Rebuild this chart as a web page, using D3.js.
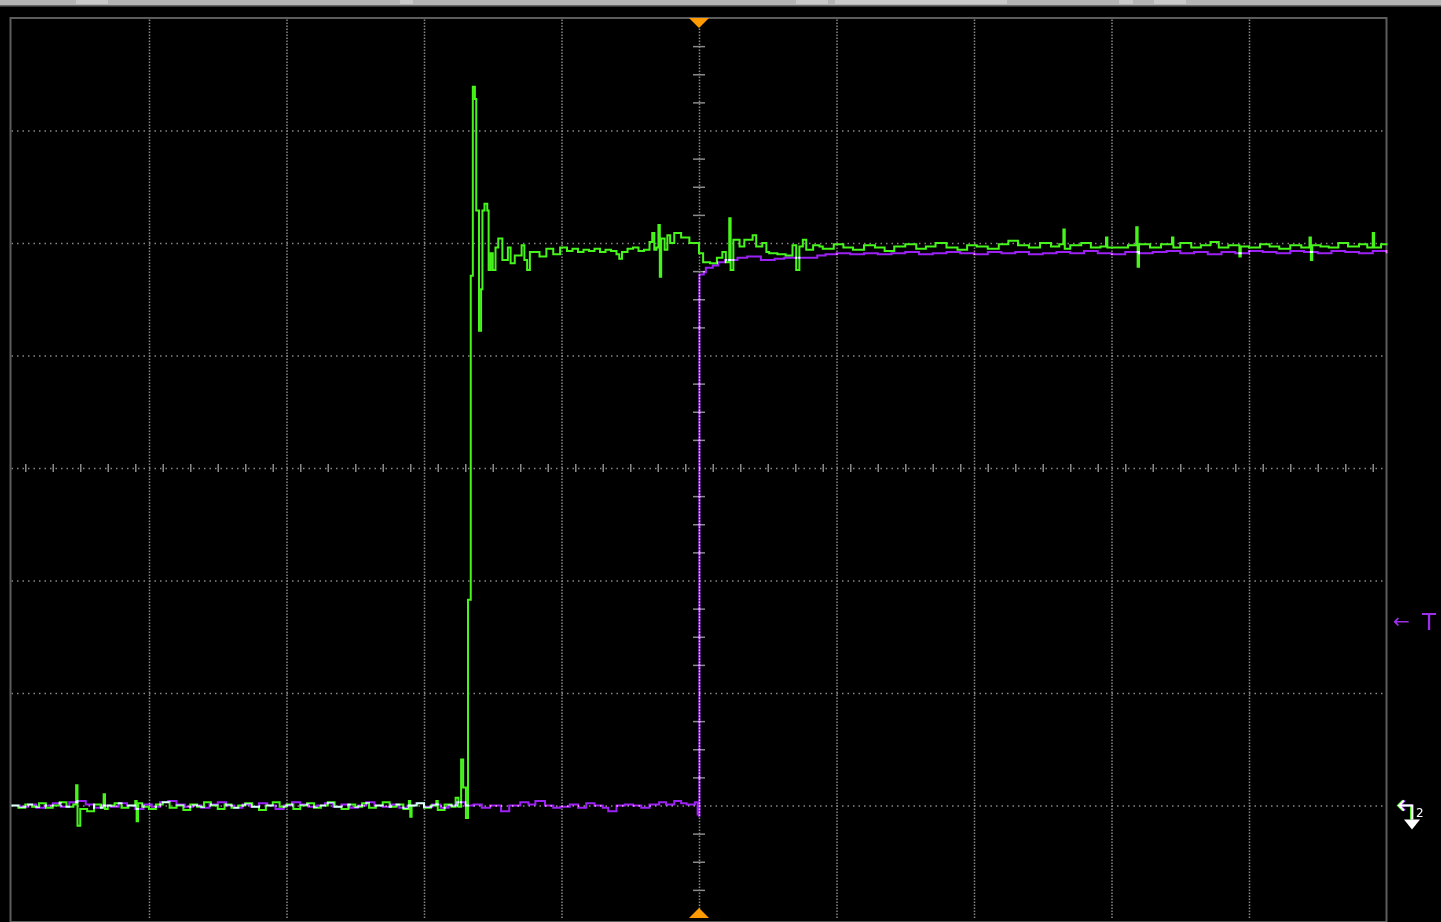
<!DOCTYPE html>
<html><head><meta charset="utf-8">
<script src="https://cdn.jsdelivr.net/npm/d3@7"></script>
<style>
html,body{margin:0;padding:0;background:#000;overflow:hidden;}
svg{display:block;}
</style></head>
<body>
<svg id="c" width="1441" height="922"></svg>
<script>
// ---- data (time in ns, 100 ns/div; voltage in mV, 100 mV/div) ----
const xTicks = [-400,-300,-200,-100,0,100,200,300,400];
const yTicks = [-300,-200,-100,0,100,200,300];
const xMinor = d3.range(-490, 500, 20);   // 5 minor per division
const yMinor = d3.range(-375, 400, 25);   // 4 minor per division
const triggerLevel = -136;
const groundLevel = -300;

const greenTrace = [
[-500,-300],[-495,-302],[-490,-299],[-485,-301],[-480,-298],[-475,-302],[-470,-300],[-465,-297],[-460,-301],[-455,-299],
[-453,-282],[-452,-318],[-450,-303],[-445,-305],[-440,-299],[-435,-302],[-433,-290],[-432,-303],[-430,-300],[-425,-298],
[-420,-302],[-415,-300],[-410,-296],[-409,-314],[-408,-298],[-405,-301],[-400,-303],[-395,-299],[-390,-297],[-385,-302],
[-380,-300],[-375,-304],[-370,-299],[-365,-301],[-360,-297],[-355,-300],[-350,-303],[-345,-299],[-340,-302],[-335,-300],
[-330,-298],[-325,-301],[-320,-304],[-315,-300],[-310,-297],[-305,-301],[-300,-299],[-295,-303],[-290,-300],[-285,-298],
[-280,-302],[-275,-300],[-270,-297],[-265,-301],[-260,-303],[-255,-299],[-250,-301],[-245,-298],[-240,-302],[-235,-300],
[-230,-297],[-225,-301],[-220,-299],[-215,-303],[-211,-296],[-210,-310],[-209,-300],[-205,-298],[-200,-302],[-195,-300],
[-191,-296],[-190,-304],[-185,-299],[-180,-301],[-177,-293],[-175,-301],[-173,-259],[-171.5,-284],[-169.5,-311],
[-168,-117],[-166,171],[-164.5,339],[-163,328],[-162,229],[-160,122],[-158.5,159],[-157.5,229],[-156,235],[-154,229],
[-153,176],[-151.5,191],[-150,176],[-148,196],[-146,204],[-143,185],[-139,196],[-137,182],[-134,189],[-129,198],
[-127,185],[-125,176],[-123,192],[-118,192],[-116,188],[-111,195],[-106,190],[-101,196],[-96,193],[-92,195],
[-88,192],[-84,194],[-80,193],[-76,195],[-72,192],[-68,194],[-64,193],[-60,190],[-58,186],[-56,192],[-52,195],
[-48,196],[-44,193],[-40,194],[-36,201],[-34,209],[-32.5,194],[-31,196],[-29.5,216],[-28.5,170],[-27.5,204],[-25,194],
[-23,207],[-21,200],[-18,209],[-13,205],[-7,200],[0,191],[3,183],[8,182],[13,187],[17,192],[19.5,183],[22,222],
[23,176],[25,203],[29.5,197],[33,203],[39,207],[41.6,197],[46,200],[49,192],[51,191],[57,190],[63,189],[68,198],
[70.7,176],[73,197],[75.5,203],[78,194],[83,198],[87.6,197],[90,195],[98,199],[105,196],[112,194],[120,198],
[128,196],[135,193],[142,197],[150,199],[158,195],[165,197],[172,200],[180,196],[188,194],[195,198],[202,197],
[210,195],[218,199],[225,202],[232,198],[240,196],[248,200],[256,197],[262,199],[265,212],[266,195],[270,198],
[278,200],[285,196],[292,197],[296,205],[297,196],[305,196],[312,198],[318,214],[319,179],[320,199],[328,196],
[336,199],[344,205],[345,196],[350,200],[358,196],[365,198],[372,201],[378,196],[385,198],[393,188],[394,197],
[400,196],[408,199],[415,197],[422,195],[430,198],[438,196],[444,205],[445,185],[446,198],[452,197],[458,196],
[465,200],[472,197],[480,199],[486,196],[490,209],[491,196],[496,199],[500,198]
];

const purpleTrace = [
[-500,-300],[-494,-301],[-488,-299],[-482,-302],[-476,-300],[-470,-298],[-464,-301],[-458,-297],[-452,-296],[-446,-299],
[-440,-302],[-434,-300],[-428,-301],[-422,-298],[-416,-300],[-410,-303],[-404,-299],[-398,-301],[-392,-297],[-386,-296],
[-380,-299],[-374,-301],[-368,-300],[-362,-302],[-356,-299],[-350,-297],[-344,-300],[-338,-302],[-332,-299],[-326,-301],
[-320,-298],[-314,-300],[-308,-303],[-302,-300],[-296,-297],[-290,-299],[-284,-301],[-278,-300],[-272,-298],[-266,-301],
[-260,-299],[-254,-302],[-248,-300],[-242,-297],[-236,-300],[-230,-301],[-224,-299],[-218,-302],[-212,-300],[-206,-298],
[-200,-301],[-194,-299],[-188,-302],[-182,-300],[-176,-297],[-170,-300],[-164,-299],[-158,-302],[-152,-300],[-144,-305],
[-138,-300],[-130,-297],[-124,-299],[-119,-296],[-112,-300],[-106,-302],[-101,-301],[-94,-299],[-88,-302],[-82,-298],
[-76,-300],[-70,-302],[-66,-305],[-60,-300],[-54,-299],[-48,-300],[-42,-302],[-36,-299],[-29,-297],[-24,-299],
[-18,-296],[-13,-298],[-9,-299],[-3,-297],[-1,-308],[0,-309],[0.3,172],[3.5,174],[5,178],[10,180],[14,183],[19,185],
[28,187],[35,188],[42,188],[45,185],[55,186],[62,187],[70,187],[80,187],[86,189],[92,190],[100,191],[110,190],
[120,191],[130,190],[140,191],[150,192],[160,190],[170,191],[180,192],[190,191],[200,190],[210,192],[220,191],
[230,192],[240,190],[250,191],[260,192],[270,191],[280,193],[290,191],[300,190],[310,192],[320,191],[330,192],
[340,193],[350,191],[360,192],[370,190],[380,192],[390,191],[400,193],[410,192],[420,191],[430,193],[440,192],
[450,191],[460,193],[470,192],[480,191],[490,193],[500,191]
];

// ---- layout ----
const W = 1441, H = 922;
const plot = {left: 11.5, right: 1386.5, top: 18, bottom: 918};
const x = d3.scaleLinear().domain([-500, 500]).range([plot.left, plot.right]);
const y = d3.scaleLinear().domain([-400, 400]).range([plot.bottom, plot.top]);

const svg = d3.select("#c");
svg.append("rect").attr("width", W).attr("height", H).attr("fill", "#000");

// top toolbar strip
svg.append("rect").attr("x",0).attr("y",0).attr("width",W).attr("height",5.5).attr("fill","#b4b4b4");
const boxes = [[76,108],[400,413],[796,828],[835,1007],[1119,1133],[1154,1186]];
svg.selectAll("rect.tb").data(boxes).join("rect").attr("class","tb")
  .attr("x",d=>d[0]).attr("y",0).attr("width",d=>d[1]-d[0]).attr("height",4).attr("fill","#c9c9c9");
svg.append("line").attr("x1",0).attr("x2",W).attr("y1",6).attr("y2",6).attr("stroke","#707070").attr("stroke-width",1);

// grid via axes
const gridColor = "#868686";
const gx = svg.append("g").attr("transform", `translate(0,${plot.bottom})`)
  .call(d3.axisBottom(x).tickValues(xTicks).tickSize(-(plot.bottom - plot.top)).tickFormat(""));
gx.select(".domain").remove();
gx.selectAll("line").attr("stroke", gridColor).attr("stroke-width", 1.5).attr("stroke-dasharray", "1.5 1.5");

const gy = svg.append("g").attr("transform", `translate(${plot.left},0)`)
  .call(d3.axisLeft(y).tickValues(yTicks).tickSize(-(plot.right - plot.left)).tickFormat(""));
gy.select(".domain").remove();
gy.selectAll("line").attr("stroke", gridColor).attr("stroke-width", 1.5).attr("stroke-dasharray", "1.5 4");

// minor ticks on centre axes
const mx = svg.append("g").attr("transform", `translate(0,${y(0) - 4})`)
  .call(d3.axisBottom(x).tickValues(xMinor).tickSize(8).tickFormat(""));
mx.select(".domain").remove();
mx.selectAll("line").attr("stroke", "#8a8a8a").attr("stroke-width", 1.5);

const my = svg.append("g").attr("transform", `translate(${x(0) + 6},0)`)
  .call(d3.axisLeft(y).tickValues(yMinor.filter(v => v % 100 !== 0)).tickSize(12).tickFormat(""));
my.select(".domain").remove();
my.selectAll("line").attr("stroke", "#8a8a8a").attr("stroke-width", 1.5);

// frame
svg.append("rect").attr("x", plot.left - 1).attr("y", plot.top)
  .attr("width", plot.right - plot.left + 1).attr("height", plot.bottom - plot.top + 4)
  .attr("fill", "none").attr("stroke", "#5c5c5c").attr("stroke-width", 2);

// traces
const line = d3.line().x(d => x(d[0])).y(d => y(d[1])).curve(d3.curveStepAfter);
const traces = svg.append("g");
traces.append("path").datum(greenTrace).attr("d", line)
  .attr("fill","none").attr("stroke","#47f51c").attr("stroke-width",2);
traces.append("path").datum(purpleTrace).attr("d", line)
  .attr("fill","none").attr("stroke","#9b22f2").attr("stroke-width",2)
  .style("mix-blend-mode","screen").style("mix-blend-mode","plus-lighter");

// trigger position markers (orange)
const tx = x(0);
svg.append("path").attr("d", `M${tx-10},${plot.top}L${tx+10},${plot.top}L${tx},${plot.top+10}Z`).attr("fill","#ff9a00");
svg.append("path").attr("d", `M${tx-10},${plot.bottom}L${tx+10},${plot.bottom}L${tx},${plot.bottom-10}Z`).attr("fill","#ff9a00");

// trigger level label
const tl = y(triggerLevel);
svg.append("text").attr("x", 1393).attr("y", tl + 7).attr("fill", "#9b30e8")
  .attr("font-family", "DejaVu Sans, sans-serif").attr("font-size", 20).text("←");
svg.append("text").attr("x", 1422).attr("y", tl + 9).attr("fill", "#9b30e8")
  .attr("font-family", "DejaVu Sans, sans-serif").attr("font-size", 23).text("T");

// ground marker for channel 2
const gyv = y(groundLevel);
function gnd(g, col, dx){
  g.append("path").attr("d", `M${1412+dx},${gyv+14}L${1412+dx},${gyv}L${1399+dx},${gyv}M${1404+dx},${gyv-5}L${1399+dx},${gyv}L${1404+dx},${gyv+5}`)
   .attr("fill","none").attr("stroke",col).attr("stroke-width",2);
}
const gm = svg.append("g");
gnd(gm, "#47f51c", -1);
gnd(gm, "#9b22f2", 1);
gnd(gm, "#ffffff", 0);
gm.append("path").attr("d", `M${1404},${gyv+14}L${1420},${gyv+14}L${1412},${gyv+24}Z`).attr("fill","#ffffff");
gm.append("text").attr("x", 1416).attr("y", gyv + 11).attr("fill","#ffffff")
  .attr("font-family","DejaVu Sans, sans-serif").attr("font-size",12).text("2");
</script>
</body></html>
